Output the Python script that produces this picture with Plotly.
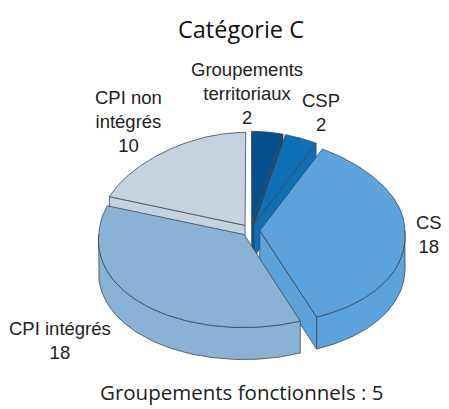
import numpy as np
import plotly.graph_objects as go

# valeurs
labels = ["Groupements<br>territoriaux", "CSP", "CS", "CPI intégrés", "CPI non<br>intégrés"]
values = [2, 2, 18, 18, 10]
colors = ["#03508c", "#0f6fb4", "#5ba3da", "#8ab2d5", "#c5d3e0"]
title = "Catégorie C"
footer = "Groupements fonctionnels : 5"

# ordre de dessin et position des textes
draw_order = [4, 0, 1, 2, 3]
label_x = [247, 321, 429, 60, 128]
label_y = [93, 112, 234, 340, 121]

# projection de la "3D"
cx, cy = 250.5, 230.2
rx, ry = 145, 93
depth = 32
explode = 0.064
edge = "#3a4754"


def project(x, y, z=0):
    # le fond du disque est un peu plus étroit que le devant
    y = np.asarray(y, dtype=float)
    scale = np.where(y < 0, 1 - 0.12 * y ** 2, 1 + 0.06 * y)
    return cx + rx * x * scale, cy + ry * y + z


def disc(theta):
    return np.sin(theta), -np.cos(theta)


def poly(fig, xs, ys, color):
    fig.add_trace(go.Scatter(x=xs, y=ys, mode="lines", fill="toself", fillcolor=color,
                             line=dict(color=edge, width=0.8), hoverinfo="skip", showlegend=False))


fig = go.Figure()

total = sum(values)
bounds = np.cumsum([0] + values) / total * 2 * np.pi
for i in draw_order:
    t1, t2 = bounds[i], bounds[i + 1]
    mx, my = disc((t1 + t2) / 2)
    ox, oy = explode * mx, explode * my
    col = colors[i]

    # faces coupées visibles
    for t, visible in ((t1, np.sin(t1) < 0), (t2, np.sin(t2) > 0)):
        if visible:
            ex, ey = disc(t)
            x0, y0 = project(ox, oy)
            x1, y1 = project(ox + ex, oy + ey)
            poly(fig, [float(x0), float(x1), float(x1), float(x0), float(x0)],
                 [y0, y1, y1 + depth, y0 + depth, y0], col)

    # paroi extérieure, seulement le devant
    lo, hi = max(t1, np.pi / 2), min(t2, 3 * np.pi / 2)
    if lo < hi:
        th = np.linspace(lo, hi, 80)
        ex, ey = disc(th)
        xa, ya = project(ox + ex, oy + ey)
        poly(fig, np.r_[xa, xa[::-1], xa[0]], np.r_[ya, ya[::-1] + depth, ya[0]], col)

    # dessus
    th = np.linspace(t1, t2, 120)
    ex, ey = disc(th)
    xa, ya = project(np.r_[ox, ox + ex, ox], np.r_[oy, oy + ey, oy])
    poly(fig, xa, ya, col)

for name, val, x, y in zip(labels, values, label_x, label_y):
    fig.add_annotation(x=x, y=y, text=f"{name}<br>{val}", showarrow=False, align="center",
                       font=dict(family="Liberation Sans", size=18.5, color="#222222"))

fig.add_annotation(x=241, y=29, text=title, showarrow=False,
                   font=dict(family="Open Sans", size=23.5, color="#111111"))
fig.add_annotation(x=242, y=392, text=footer, showarrow=False,
                   font=dict(family="Open Sans", size=20.5, color="#222222"))

fig.update_xaxes(range=[0, 449], visible=False)
fig.update_yaxes(range=[409, 0], visible=False)
fig.update_layout(width=449, height=409, margin=dict(l=0, r=0, t=0, b=0),
                  paper_bgcolor="white", plot_bgcolor="white")

fig.write_html("out.html", config=dict(displayModeBar=False),
               post_script="document.body.style.margin='0';document.body.style.overflow='hidden';")
